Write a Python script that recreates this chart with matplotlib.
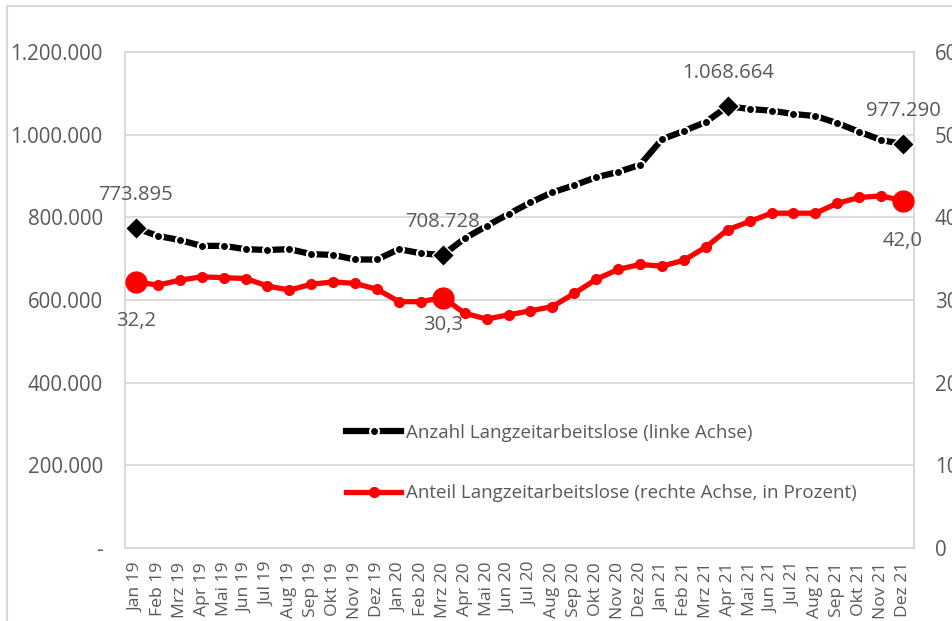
import matplotlib
matplotlib.use("Agg")
import matplotlib.pyplot as plt
from matplotlib.lines import Line2D
from matplotlib.patches import Rectangle
from matplotlib.ticker import FuncFormatter, MultipleLocator

plt.rcParams['font.family'] = ['Open Sans', 'DejaVu Sans']

months = ["Jan", "Feb", "Mrz", "Apr", "Mai", "Jun", "Jul", "Aug", "Sep", "Okt", "Nov", "Dez"]
labels = [f"{m} {y}" for y in ("19", "20", "21") for m in months]

anzahl = [773895, 755000, 745000, 731000, 731000, 723000, 721000, 723000, 711000, 709000, 698000, 698000,
          723000, 713000, 708728, 749000, 779000, 808000, 836000, 860500, 877500, 897000, 909700, 927000,
          988700, 1009000, 1030600, 1068664, 1062000, 1058000, 1050000, 1045000, 1028000, 1007000, 987000, 977290]

anteil = [32.2, 31.8, 32.4, 32.8, 32.7, 32.6, 31.7, 31.2, 31.9, 32.2, 32.0, 31.3,
          29.8, 29.8, 30.3, 28.4, 27.7, 28.2, 28.7, 29.2, 30.8, 32.5, 33.7, 34.3,
          34.1, 34.8, 36.4, 38.5, 39.5, 40.5, 40.5, 40.5, 41.7, 42.4, 42.6, 42.0]

anzahl_highlight = [0, 14, 27, 35]
anteil_highlight = [0, 14, 35]

leg_anzahl = "Anzahl Langzeitarbeitslose (linke Achse)"
leg_anteil = "Anteil Langzeitarbeitslose (rechte Achse, in Prozent)"

TXT = "#595959"
GRID = "#d9d9d9"

fig = plt.figure(figsize=(9.52, 6.21), dpi=100)
ax = fig.add_axes([125/952, 1-548/621, (914-125)/952, (548-52)/621])
ax2 = ax.twinx()

x = list(range(len(labels)))

def de_fmt(v, pos):
    if v == 0:
        return "-"
    return f"{int(round(v)):,}".replace(",", ".")

ax.set_ylim(0, 1200000)
ax.yaxis.set_major_locator(MultipleLocator(200000))
ax.yaxis.set_major_formatter(FuncFormatter(de_fmt))
ax2.set_ylim(0, 60)
ax2.yaxis.set_major_locator(MultipleLocator(10))
ax.set_xlim(-0.5, len(labels) - 0.5)

ax.grid(axis='y', color=GRID, lw=1.3)
ax.set_axisbelow(True)
for a in (ax, ax2):
    for s in a.spines.values():
        s.set_color(GRID)
        s.set_linewidth(1.3)

ax.set_xticks(x)
ax.set_xticklabels(labels, rotation=90, fontsize=12.6, color=TXT)
ax.tick_params(axis='x', length=0, pad=10)
ax.tick_params(axis='y', length=0, pad=16, labelsize=14.8, labelcolor=TXT)
ax2.tick_params(axis='y', length=0, pad=15, labelsize=14.8, labelcolor=TXT)

# the count series is drawn on the right-hand scale (1 % = 20.000 persons) so both lines share one layer
l_black, = ax2.plot(x, [v / 20000 for v in anzahl], color="black", lw=4.5,
                    marker="o", ms=6.5, mfc="black", mec="white", mew=1.5, zorder=3)
ax2.plot([x[i] for i in anzahl_highlight], [anzahl[i] / 20000 for i in anzahl_highlight],
         ls="none", marker="D", ms=11, mfc="black", mec="white", mew=1.0, zorder=4)
l_red, = ax2.plot(x, anteil, color="#ff0000", lw=3.8, marker="o", ms=7,
                  mfc="#ff0000", mec="#ff0000", zorder=3)
ax2.plot([x[i] for i in anteil_highlight], [anteil[i] for i in anteil_highlight],
         ls="none", marker="o", ms=15, mfc="#ff0000", mec="#ff0000", zorder=4)

for i in anzahl_highlight:
    ax2.annotate(de_fmt(anzahl[i], None), (x[i], anzahl[i] / 20000), xytext=(0, 24),
                 textcoords="offset points", ha="center", va="center", fontsize=14.6, color=TXT)
red_offsets = {0: -28, 14: -20, 35: -29}
for i in anteil_highlight:
    ax2.annotate(f"{anteil[i]:.1f}".replace(".", ","), (x[i], anteil[i]), xytext=(0, red_offsets[i]),
                 textcoords="offset points", ha="center", va="center", fontsize=14.6, color=TXT)

h_black = Line2D([], [], color="black", lw=4.5, marker="o", ms=6.5, mfc="black", mec="white", mew=1.5)
h_red = Line2D([], [], color="#ff0000", lw=3.8, marker="o", ms=7, mfc="#ff0000", mec="#ff0000")
leg = ax2.legend([h_black, h_red], [leg_anzahl, leg_anteil], loc="upper left",
                 bbox_to_anchor=(346/952, 1-424/621), bbox_transform=fig.transFigure,
                 frameon=False, fontsize=13.5, handlelength=2.95, handletextpad=0.25,
                 labelspacing=2.25, borderpad=0, borderaxespad=0)
for t in leg.get_texts():
    t.set_color(TXT)

# outer chart frame (cropped)
fig.patches.append(Rectangle((7/952, -0.1), 1.2, 1 - 6/621 + 0.1, transform=fig.transFigure,
                             fill=False, edgecolor=GRID, lw=1.5))

fig.savefig("out.png", dpi=100)
